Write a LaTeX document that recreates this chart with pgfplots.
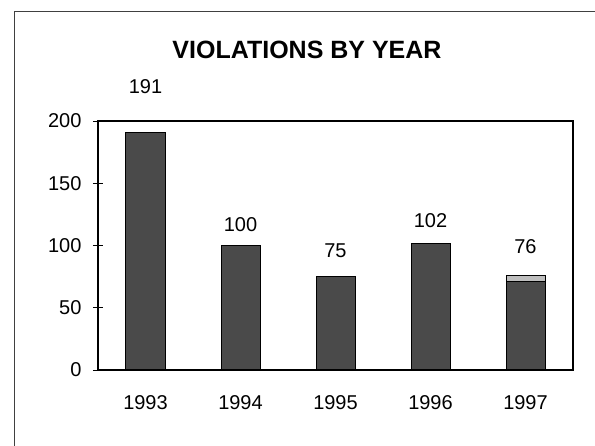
\documentclass[border=0pt]{standalone}
\usepackage{pgfplots}
\pgfplotsset{compat=1.18}
\usepackage{fontspec}
\setmainfont{Liberation Sans}
\definecolor{bardark}{HTML}{4A4A4A}
\definecolor{barlight}{HTML}{BEBEBE}
\begin{document}
\begin{tikzpicture}[x=1pt,y=1pt]
\useasboundingbox (0,0) rectangle (595,446);
\draw[line width=0.9pt, black!75] (14,0) -- (14,435) -- (595,435);
\node[font=\bfseries\fontsize{25}{30}\selectfont] at (307,396) {VIOLATIONS BY YEAR};
\begin{axis}[
  at={(98pt,76pt)}, anchor=south west,
  width=475pt, height=249pt, scale only axis,
  xmin=0.5, xmax=5.5, ymin=0, ymax=200,
  axis line style={line width=1.2pt},
  ytick={0,50,100,150,200},
  xtick={1,2,3,4,5},
  xticklabels={1993,1994,1995,1996,1997},
  extra x ticks={0.5,1.5,2.5,3.5,4.5,5.5},
  extra x tick labels={},
  extra x tick style={major tick length=9pt, tick align=center, tick style={line width=0.6pt, black}},
  x tick style={draw=none},
  major tick length=10pt, tick align=center,
  y tick style={line width=0.6pt, black},
  ytick pos=left,
  tick label style={font=\fontsize{20}{24}\selectfont},
  /pgf/number format/assume math mode=true,
  yticklabel style={xshift=-8pt},
  xticklabel style={yshift=-12pt},
  clip=false,
  ybar, bar shift=0pt, bar width=39pt,
]
\addplot[fill=barlight, draw=black, line width=1pt] coordinates {(5,76)};
\addplot[fill=bardark, draw=black, line width=1pt] coordinates {(1,191) (2,100) (3,75) (4,102) (5,71)};
\node[font=\fontsize{20}{24}\selectfont] at (axis cs:1,228) {191};
\node[font=\fontsize{20}{24}\selectfont] at (axis cs:2,117) {100};
\node[font=\fontsize{20}{24}\selectfont] at (axis cs:3,96) {75};
\node[font=\fontsize{20}{24}\selectfont] at (axis cs:4,120) {102};
\node[font=\fontsize{20}{24}\selectfont] at (axis cs:5,99) {76};
\end{axis}
\end{tikzpicture}
\end{document}
